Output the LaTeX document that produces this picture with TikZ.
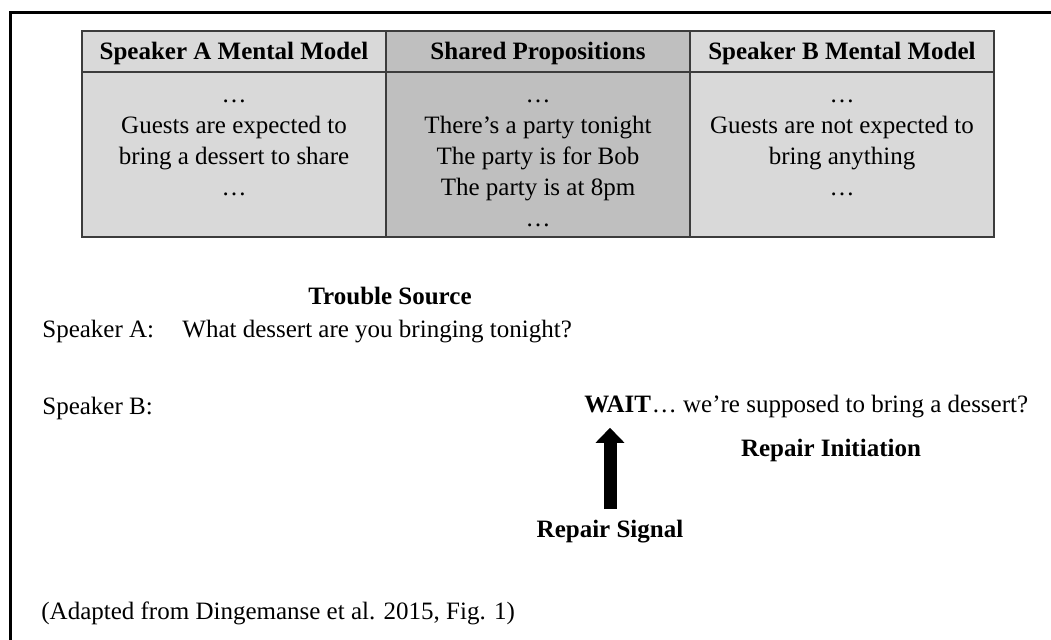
\documentclass[tikz,border=0pt]{standalone}
\usepackage{fontspec}
\setmainfont{Liberation Serif}
\usetikzlibrary{arrows.meta}
\definecolor{cellgray}{RGB}{217,217,217}
\definecolor{sharedgray}{RGB}{191,191,191}
\definecolor{rulegray}{RGB}{60,60,60}
\newcommand{\bodyfont}{\fontsize{12.5pt}{15.5pt}\selectfont}
\tikzset{
  hdr/.style={font=\bodyfont\bfseries, anchor=base, inner sep=0pt},
  celltext/.style={align=center, anchor=north, inner sep=0pt},
  line/.style={anchor=base west, inner sep=0pt},
  tag/.style={font=\bodyfont\bfseries, anchor=base, inner sep=0pt},
  bigarrow/.style={-{Triangle[length=7.5pt,width=14pt]}, line width=6.5pt}
}
\begin{document}
\begin{tikzpicture}[x=0.5pt,y=-0.5pt,font=\bodyfont]
\useasboundingbox (0,0) rectangle (1051,640);
\clip (0,0) rectangle (1051,640);
% frame, cut off on the right and at the bottom
\draw[line width=1.5pt] (10,700) -- (10,13) -- (1100,13);

% the three models
\fill[cellgray] (82,31) rectangle (386,237);
\fill[sharedgray] (386,31) rectangle (690,237);
\fill[cellgray] (690,31) rectangle (994,237);
\draw[rulegray, line width=0.7pt] (82,31) rectangle (994,237);
\draw[rulegray, line width=0.7pt] (82,72) -- (994,72);
\draw[rulegray, line width=0.7pt] (386,31) -- (386,237) (690,31) -- (690,237);

\node[hdr] (hA) at (234,60) {Speaker A Mental Model};
\node[hdr] (hS) at (538,60) {Shared Propositions};
\node[hdr] (hB) at (842,60) {Speaker B Mental Model};

\node[celltext] (tA) at (234,80) {\strut…\\Guests are expected to\\bring a dessert to share\\…};
\node[celltext] (tS) at (538,80) {\strut…\\There’s a party tonight\\The party is for Bob\\The party is at 8pm\\…};
\node[celltext] (tB) at (842,80) {\strut…\\Guests are not expected to\\bring anything\\…};

% the exchange
\node[tag] (trouble) at (390,305) {Trouble Source};
\node[line] (spA) at (42,338) {Speaker A:};
\node[line] (ask) at (182,338) {What dessert are you bringing tonight?};
\node[line] (spB) at (42,415) {Speaker B:};
\node[line, font=\bodyfont\bfseries] (wait) at (584,413) {WAIT};
\node[line] (reply) at (wait.base east) {… we’re supposed to bring a dessert?};
\node[tag] (initiation) at (831,457) {Repair Initiation};
\node[tag] (signal) at (610,538) {Repair Signal};
\draw[bigarrow, shorten <=5.5pt, shorten >=7pt] (signal.north) -- (signal.north |- wait.south);

\node[line] (source) at (41,620) {(Adapted from Dingemanse et al. 2015, Fig. 1)};
\end{tikzpicture}
\end{document}
